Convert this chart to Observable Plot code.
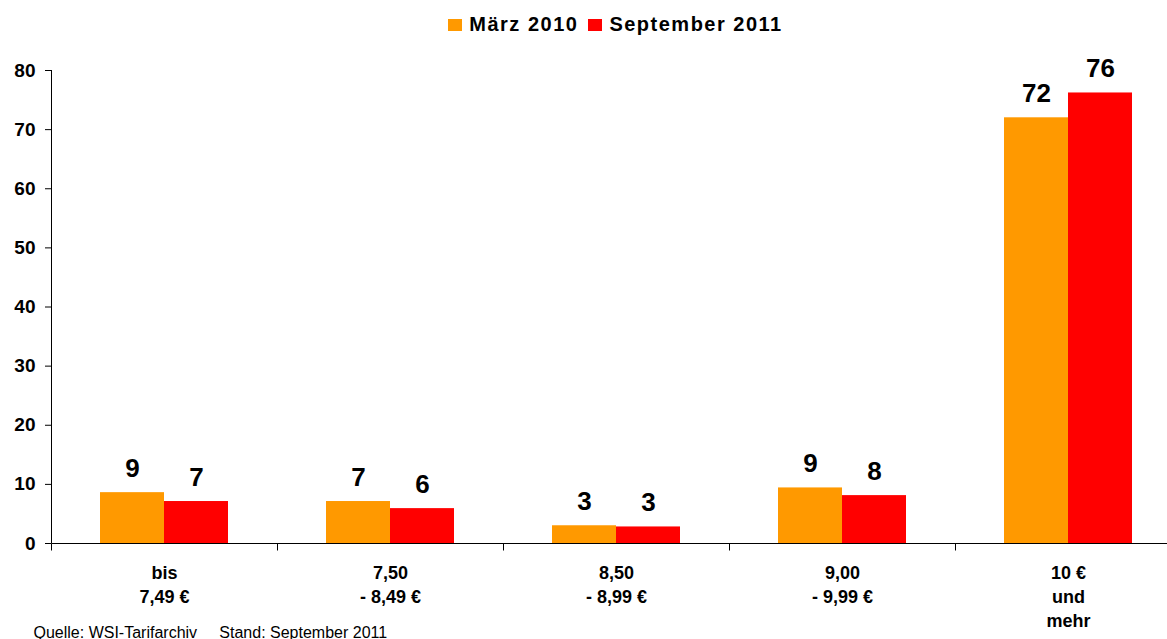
<!DOCTYPE html>
<html>
<head>
<meta charset="utf-8">
<script src="https://cdn.jsdelivr.net/npm/d3@7"></script>
<script src="https://cdn.jsdelivr.net/npm/@observablehq/plot@0.6"></script>
<style>
  html, body { margin: 0; padding: 0; background: #fff; overflow: hidden; }
  #legend {
    box-sizing: border-box; width: 1181px; height: 45px; padding: 4px 0 0 50px;
    display: flex; justify-content: center; align-items: center;
    font-family: "Liberation Sans", Arial, sans-serif; font-weight: bold;
    font-size: 20px; letter-spacing: 1.5px; color: #000;
  }
  .item { display: flex; align-items: center; margin: 0 5px; }
  .sw { display: inline-block; width: 14px; height: 12px; margin-right: 7px; }
</style>
</head>
<body>
<div id="legend"></div>
<div id="chart"></div>
<script>
const FONT = '"Liberation Sans", Arial, Helvetica, sans-serif';

// --- data ---
const categories = ["bis\n7,49 €", "7,50\n- 8,49 €", "8,50\n- 8,99 €", "9,00\n- 9,99 €", "10 €\nund\nmehr"];
const series = ["März 2010", "September 2011"];
const maerz2010 = [8.6, 7.1, 3.0, 9.4, 72.0];
const september2011 = [7.1, 5.9, 2.8, 8.1, 76.2];
const colors = ["#FF9900", "#FF0000"];
const yTicks = [0, 10, 20, 30, 40, 50, 60, 70, 80];
const caption = "Quelle: WSI-Tarifarchiv\u00A0\u00A0\u00A0\u00A0\u00A0Stand: September 2011";

const rows = categories.flatMap((c, i) => [
  {category: c, series: series[0], value: maerz2010[i]},
  {category: c, series: series[1], value: september2011[i]}
]);

// --- legend ---
const legend = d3.select("#legend");
series.forEach((s, i) => {
  const it = legend.append("div").attr("class", "item");
  it.append("span").attr("class", "sw").style("background", colors[i]);
  it.append("span").text(s);
});

// axis lines: baseline, y-axis line and category boundary ticks, all from the scales
function axisLines(index, scales, values, dimensions) {
  const fx = scales.fx, y = scales.y;
  const g = d3.create("svg:g").attr("stroke", "#000").attr("stroke-width", 1).attr("fill", "none");
  if (!fx || !y) return g.node();
  const y0 = Math.round(y(0)) + 0.5;
  const edges = categories.map(c => Math.round(fx(c)) + 0.5);
  let bw = typeof fx.bandwidth === "function" ? fx.bandwidth() : fx.bandwidth;
  if (!(bw > 0)) bw = fx(categories[1]) - fx(categories[0]);
  const right = Math.round(fx(categories[categories.length - 1]) + bw) + 0.5;
  g.append("line").attr("x1", edges[0]).attr("x2", right).attr("y1", y0).attr("y2", y0);
  g.append("line").attr("x1", edges[0]).attr("x2", edges[0]).attr("y1", y(80)).attr("y2", y0);
  edges.concat([right]).forEach(e => {
    g.append("line").attr("x1", e).attr("x2", e).attr("y1", y0).attr("y2", y0 + 7);
  });
  return g.node();
}

// --- chart ---
const chart = Plot.plot({
  width: 1167,
  height: 594,
  marginTop: 25,
  marginBottom: 96,
  marginLeft: 50,
  marginRight: -14,
  style: {fontFamily: FONT, color: "#000", background: "#fff"},
  fx: {domain: categories, padding: 0, label: null},
  x: {domain: series, paddingInner: 0, paddingOuter: 0.75, axis: null},
  y: {domain: [0, 80], label: null},
  color: {domain: series, range: colors},
  marks: [
    Plot.barY(rows, {fx: "category", x: "series", y: "value", fill: "series"}),
    Plot.text(rows, {
      fx: "category", x: "series", y: "value",
      text: d => String(Math.round(d.value)),
      lineAnchor: "bottom", dy: -16,
      fontSize: 26, fontWeight: "bold", fill: "#000"
    }),
    Plot.axisY({
      ticks: yTicks, tickSize: 6, tickPadding: 10,
      fontSize: 19, fontWeight: "bold", label: null,
      tickFormat: d => String(d), stroke: "#000", fill: "#000"
    }),
    Plot.axisFx({
      anchor: "bottom",
      tickSize: 0, tickPadding: 18, fontSize: 18, fontWeight: "bold",
      label: null, lineHeight: 1.333, fill: "#000"
    }),
    Plot.frame({facet: "super", render: axisLines}),
    Plot.text([caption], {
      facet: "super", frameAnchor: "bottom-left",
      dx: -18, dy: 94, textAnchor: "start", lineAnchor: "bottom",
      fontSize: 16, fontWeight: "normal", fill: "#000"
    })
  ]
});

document.getElementById("chart").appendChild(chart);
</script>
</body>
</html>
